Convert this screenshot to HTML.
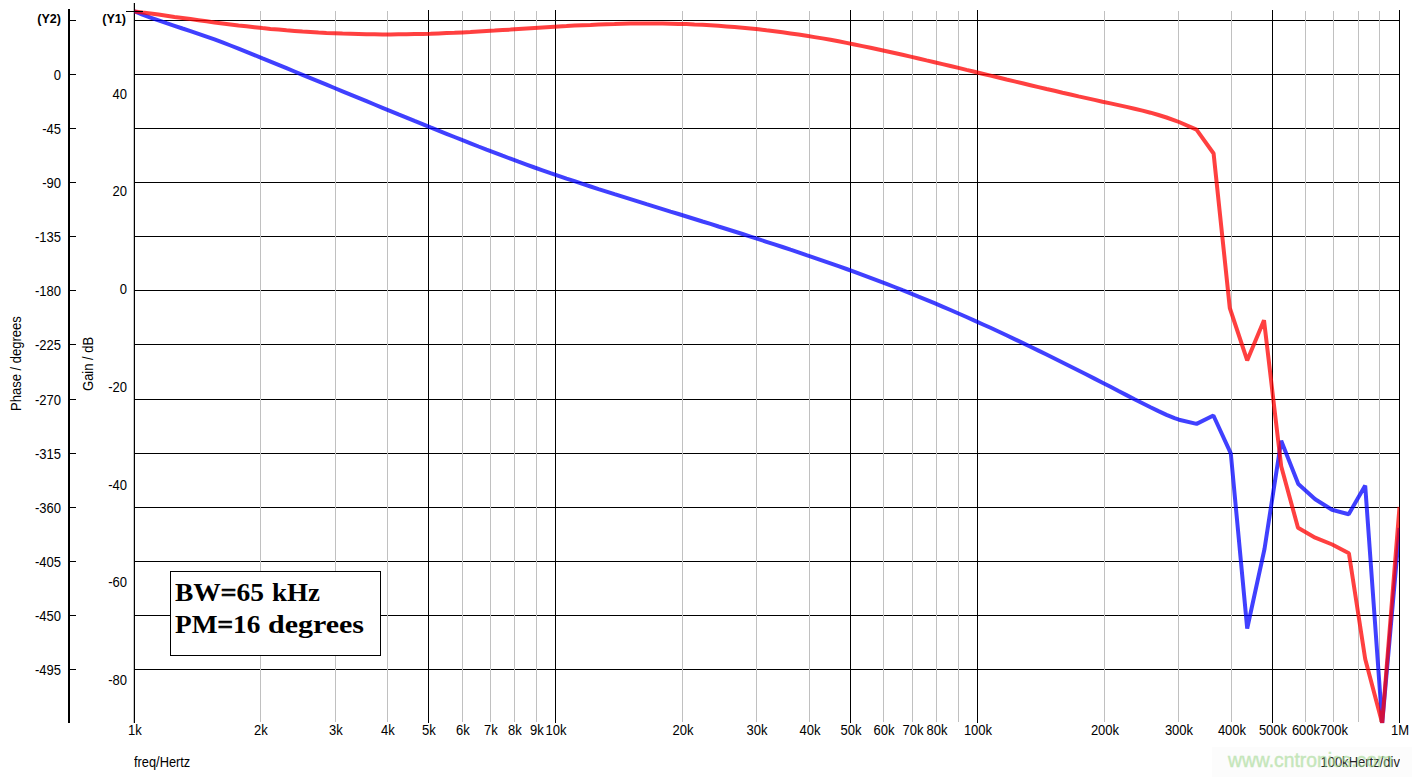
<!DOCTYPE html>
<html><head><meta charset="utf-8"><title>Bode plot</title>
<style>
html,body{margin:0;padding:0;background:#fff;}
body{width:1412px;height:777px;position:relative;overflow:hidden;font-family:"Liberation Sans",sans-serif;font-size:14px;color:#000;}
.t{position:absolute;white-space:nowrap;line-height:16px;height:16px;transform:scaleX(0.93);transform-origin:0 50%;}
.r{text-align:right;transform-origin:100% 50%;}
.c{text-align:center;transform-origin:50% 50%;}
.b{font-weight:bold;font-size:13.7px;transform:scaleX(0.92);}
.rot{position:absolute;white-space:nowrap;line-height:16px;transform-origin:0 0;transform:rotate(-90deg) scaleX(0.93);}
#box{position:absolute;left:170px;top:571px;width:209px;height:83px;border:1px solid #000;background:#fff;}
#box span{position:absolute;white-space:nowrap;font-family:"Liberation Serif",serif;font-weight:bold;font-size:26px;line-height:30px;transform-origin:0 50%;}
#box b{-webkit-text-stroke:0.7px #000;}
#band{position:absolute;left:1212px;top:747px;width:200px;height:30px;background:#fcfcfc;}
#wm{position:absolute;left:1228px;top:750px;font-size:19.3px;line-height:22px;color:rgb(161,216,143);-webkit-text-stroke:0.45px rgb(161,216,143);opacity:0.6;white-space:nowrap;}
</style></head><body>
<svg width="1412" height="777" viewBox="0 0 1412 777" style="position:absolute;left:0;top:0">
<defs><clipPath id="pc"><rect x="134.3" y="0" width="1265" height="723.2"/></clipPath></defs>
<g shape-rendering="crispEdges">
<rect x="68" y="9" width="2" height="714" fill="#000"/>
<rect x="70" y="20" width="6" height="1" fill="#000"/>
<rect x="70" y="74" width="6" height="1" fill="#000"/>
<rect x="70" y="128" width="6" height="1" fill="#000"/>
<rect x="70" y="182" width="6" height="1" fill="#000"/>
<rect x="70" y="236" width="6" height="1" fill="#000"/>
<rect x="70" y="290" width="6" height="1" fill="#000"/>
<rect x="70" y="344" width="6" height="1" fill="#000"/>
<rect x="70" y="399" width="6" height="1" fill="#000"/>
<rect x="70" y="453" width="6" height="1" fill="#000"/>
<rect x="70" y="507" width="6" height="1" fill="#000"/>
<rect x="70" y="561" width="6" height="1" fill="#000"/>
<rect x="70" y="615" width="6" height="1" fill="#000"/>
<rect x="70" y="669" width="6" height="1" fill="#000"/>
<rect x="134" y="20" width="1266" height="1" fill="#000"/>
<rect x="134" y="74" width="1266" height="1" fill="#000"/>
<rect x="134" y="128" width="1266" height="1" fill="#000"/>
<rect x="134" y="182" width="1266" height="1" fill="#000"/>
<rect x="134" y="236" width="1266" height="1" fill="#000"/>
<rect x="134" y="290" width="1266" height="1" fill="#000"/>
<rect x="134" y="344" width="1266" height="1" fill="#000"/>
<rect x="134" y="399" width="1266" height="1" fill="#000"/>
<rect x="134" y="453" width="1266" height="1" fill="#000"/>
<rect x="134" y="507" width="1266" height="1" fill="#000"/>
<rect x="134" y="561" width="1266" height="1" fill="#000"/>
<rect x="134" y="615" width="1266" height="1" fill="#000"/>
<rect x="134" y="669" width="1266" height="1" fill="#000"/>
<rect x="260" y="11" width="1" height="711" fill="#c0c0c0"/>
<rect x="335" y="11" width="1" height="711" fill="#c0c0c0"/>
<rect x="387" y="11" width="1" height="711" fill="#c0c0c0"/>
<rect x="462" y="11" width="1" height="711" fill="#c0c0c0"/>
<rect x="490" y="11" width="1" height="711" fill="#c0c0c0"/>
<rect x="514" y="11" width="1" height="711" fill="#c0c0c0"/>
<rect x="536" y="11" width="1" height="711" fill="#c0c0c0"/>
<rect x="682" y="11" width="1" height="711" fill="#c0c0c0"/>
<rect x="756" y="11" width="1" height="711" fill="#c0c0c0"/>
<rect x="809" y="11" width="1" height="711" fill="#c0c0c0"/>
<rect x="883" y="11" width="1" height="711" fill="#c0c0c0"/>
<rect x="912" y="11" width="1" height="711" fill="#c0c0c0"/>
<rect x="936" y="11" width="1" height="711" fill="#c0c0c0"/>
<rect x="958" y="11" width="1" height="711" fill="#c0c0c0"/>
<rect x="1104" y="11" width="1" height="711" fill="#c0c0c0"/>
<rect x="1178" y="11" width="1" height="711" fill="#c0c0c0"/>
<rect x="1231" y="11" width="1" height="711" fill="#c0c0c0"/>
<rect x="1305" y="11" width="1" height="711" fill="#c0c0c0"/>
<rect x="1333" y="11" width="1" height="711" fill="#c0c0c0"/>
<rect x="1358" y="11" width="1" height="711" fill="#c0c0c0"/>
<rect x="1379" y="11" width="1" height="711" fill="#c0c0c0"/>
<rect x="428" y="10" width="1" height="713" fill="#000"/>
<rect x="555" y="10" width="1" height="713" fill="#000"/>
<rect x="850" y="10" width="1" height="713" fill="#000"/>
<rect x="977" y="10" width="1" height="713" fill="#000"/>
<rect x="1272" y="10" width="1" height="713" fill="#000"/>
<rect x="1399" y="10" width="1" height="713" fill="#000"/>
<rect x="133" y="3" width="1" height="720" fill="#c4c4c4"/>
<rect x="134" y="3" width="1" height="720" fill="#000"/>
</g>
<g clip-path="url(#pc)" fill="none" stroke-width="4" stroke-linejoin="bevel">
<path d="M134.5 11.4 L142.5 14.6 L150.5 17.6 L158.5 20.4 L166.5 23.2 L174.5 25.8 L182.5 28.5 L190.5 31.1 L198.5 33.8 L206.5 36.6 L214.5 39.4 L222.5 42.4 L230.5 45.5 L238.5 48.6 L246.5 51.8 L254.5 55.1 L262.5 58.4 L270.5 61.6 L278.5 64.9 L286.5 68.2 L294.5 71.5 L302.5 74.8 L310.5 78.1 L318.5 81.4 L326.5 84.7 L334.5 88.0 L342.5 91.3 L350.5 94.6 L358.5 97.9 L366.5 101.2 L374.5 104.5 L382.5 107.8 L390.5 111.1 L398.5 114.4 L406.5 117.6 L414.5 120.9 L422.5 124.1 L430.5 127.4 L438.5 130.6 L446.5 133.8 L454.5 137.0 L462.5 140.2 L470.5 143.3 L478.5 146.5 L486.5 149.6 L494.5 152.6 L502.5 155.7 L510.5 158.7 L518.5 161.7 L526.5 164.6 L534.5 167.5 L542.5 170.3 L550.5 173.1 L558.5 175.8 L566.5 178.6 L574.5 181.2 L582.5 183.9 L590.5 186.5 L598.5 189.1 L606.5 191.6 L614.5 194.2 L622.5 196.7 L630.5 199.2 L638.5 201.7 L646.5 204.2 L654.5 206.6 L662.5 209.1 L670.5 211.6 L678.5 214.0 L686.5 216.5 L694.5 219.0 L702.5 221.5 L710.5 223.9 L718.5 226.5 L726.5 229.0 L734.5 231.5 L742.5 234.0 L750.5 236.6 L758.5 239.2 L766.5 241.8 L774.5 244.4 L782.5 247.0 L790.5 249.7 L798.5 252.3 L806.5 255.1 L814.5 257.8 L822.5 260.6 L830.5 263.4 L838.5 266.2 L846.5 269.0 L854.5 271.9 L862.5 274.9 L870.5 277.9 L878.5 280.9 L886.5 283.9 L894.5 287.0 L902.5 290.2 L910.5 293.3 L918.5 296.6 L926.5 299.8 L934.5 303.2 L942.5 306.6 L950.5 310.0 L958.5 313.5 L966.5 317.0 L974.5 320.6 L982.5 324.2 L990.5 327.8 L998.5 331.5 L1006.5 335.3 L1014.5 339.1 L1022.5 342.9 L1030.5 346.7 L1038.5 350.6 L1046.5 354.5 L1054.5 358.5 L1062.5 362.5 L1070.5 366.5 L1078.5 370.5 L1086.5 374.5 L1094.5 378.6 L1102.5 382.7 L1110.5 386.8 L1118.5 391.0 L1126.5 395.1 L1134.5 399.2 L1142.5 403.2 L1150.5 407.2 L1158.5 411.1 L1166.5 414.9 L1174.5 418.2 L1179.0 419.7 L1196.6 423.9 L1213.4 415.5 L1230.8 453.4 L1247.2 628.5 L1264.5 549.0 L1281.2 440.8 L1298.3 484.0 L1315.2 499.3 L1332.0 509.8 L1348.7 514.2 L1365.2 485.6 L1382.2 723.2 L1399.5 528.0" stroke="rgba(0,0,255,0.75)"/>
<path d="M134.5 11.4 L142.5 12.5 L150.5 13.5 L158.5 14.6 L166.5 15.7 L174.5 16.9 L182.5 18.0 L190.5 19.1 L198.5 20.2 L206.5 21.3 L214.5 22.4 L222.5 23.4 L230.5 24.4 L238.5 25.4 L246.5 26.3 L254.5 27.2 L262.5 28.1 L270.5 28.9 L278.5 29.6 L286.5 30.3 L294.5 30.9 L302.5 31.5 L310.5 32.0 L318.5 32.5 L326.5 32.9 L334.5 33.2 L342.5 33.6 L350.5 33.8 L358.5 34.0 L366.5 34.2 L374.5 34.3 L382.5 34.4 L390.5 34.4 L398.5 34.3 L406.5 34.3 L414.5 34.1 L422.5 33.9 L430.5 33.7 L438.5 33.4 L446.5 33.1 L454.5 32.8 L462.5 32.4 L470.5 32.0 L478.5 31.5 L486.5 31.0 L494.5 30.6 L502.5 30.1 L510.5 29.6 L518.5 29.0 L526.5 28.5 L534.5 28.0 L542.5 27.5 L550.5 27.0 L558.5 26.5 L566.5 26.1 L574.5 25.6 L582.5 25.2 L590.5 24.9 L598.5 24.5 L606.5 24.2 L614.5 24.0 L622.5 23.7 L630.5 23.6 L638.5 23.5 L646.5 23.4 L654.5 23.5 L662.5 23.5 L670.5 23.7 L678.5 23.9 L686.5 24.1 L694.5 24.5 L702.5 24.8 L710.5 25.3 L718.5 25.8 L726.5 26.4 L734.5 27.0 L742.5 27.7 L750.5 28.5 L758.5 29.3 L766.5 30.3 L774.5 31.2 L782.5 32.3 L790.5 33.4 L798.5 34.5 L806.5 35.8 L814.5 37.1 L822.5 38.4 L830.5 39.8 L838.5 41.3 L846.5 42.9 L854.5 44.5 L862.5 46.1 L870.5 47.8 L878.5 49.5 L886.5 51.2 L894.5 53.0 L902.5 54.8 L910.5 56.6 L918.5 58.5 L926.5 60.4 L934.5 62.2 L942.5 64.1 L950.5 66.0 L958.5 67.9 L966.5 69.9 L974.5 71.8 L982.5 73.7 L990.5 75.6 L998.5 77.5 L1006.5 79.5 L1014.5 81.4 L1022.5 83.3 L1030.5 85.2 L1038.5 87.1 L1046.5 89.0 L1054.5 90.8 L1062.5 92.7 L1070.5 94.5 L1078.5 96.4 L1086.5 98.1 L1094.5 99.9 L1102.5 101.7 L1110.5 103.4 L1118.5 105.1 L1126.5 106.9 L1134.5 108.7 L1142.5 110.6 L1150.5 112.7 L1158.5 115.0 L1166.5 117.5 L1174.5 120.3 L1179.0 122.0 L1196.5 129.6 L1213.6 153.5 L1229.8 308.0 L1247.2 360.4 L1264.0 320.3 L1281.2 466.3 L1298.0 527.8 L1315.2 537.7 L1332.2 544.5 L1348.9 553.2 L1365.2 659.0 L1382.2 723.2 L1399.5 507.0" stroke="rgba(255,0,0,0.75)"/>
</g>
<rect x="126" y="11" width="17" height="1" fill="#000" shape-rendering="crispEdges"/>
</svg>
<div class="t r" style="left:0;width:61px;top:67px">0</div>
<div class="t r" style="left:0;width:61px;top:121px">-45</div>
<div class="t r" style="left:0;width:61px;top:175px">-90</div>
<div class="t r" style="left:0;width:61px;top:229px">-135</div>
<div class="t r" style="left:0;width:61px;top:283px">-180</div>
<div class="t r" style="left:0;width:61px;top:337px">-225</div>
<div class="t r" style="left:0;width:61px;top:392px">-270</div>
<div class="t r" style="left:0;width:61px;top:446px">-315</div>
<div class="t r" style="left:0;width:61px;top:500px">-360</div>
<div class="t r" style="left:0;width:61px;top:554px">-405</div>
<div class="t r" style="left:0;width:61px;top:608px">-450</div>
<div class="t r" style="left:0;width:61px;top:662px">-495</div>
<div class="t r b" style="left:0;width:61px;top:11px">(Y2)</div>
<div class="t r b" style="left:60px;width:66px;top:11px">(Y1)</div>
<div class="t r" style="left:60px;width:67px;top:85.5px">40</div>
<div class="t r" style="left:60px;width:67px;top:183.2px">20</div>
<div class="t r" style="left:60px;width:67px;top:281.0px">0</div>
<div class="t r" style="left:60px;width:67px;top:378.7px">-20</div>
<div class="t r" style="left:60px;width:67px;top:476.5px">-40</div>
<div class="t r" style="left:60px;width:67px;top:574.2px">-60</div>
<div class="t r" style="left:60px;width:67px;top:671.9px">-80</div>
<div class="t c" style="left:104.5px;width:60px;top:722px">1k</div>
<div class="t c" style="left:230.5px;width:60px;top:722px">2k</div>
<div class="t c" style="left:305.5px;width:60px;top:722px">3k</div>
<div class="t c" style="left:357.5px;width:60px;top:722px">4k</div>
<div class="t c" style="left:398.5px;width:60px;top:722px">5k</div>
<div class="t c" style="left:432.5px;width:60px;top:722px">6k</div>
<div class="t c" style="left:460.5px;width:60px;top:722px">7k</div>
<div class="t c" style="left:484.5px;width:60px;top:722px">8k</div>
<div class="t c" style="left:506.5px;width:60px;top:722px">9k</div>
<div class="t c" style="left:525.5px;width:60px;top:722px">10k</div>
<div class="t c" style="left:652.5px;width:60px;top:722px">20k</div>
<div class="t c" style="left:726.5px;width:60px;top:722px">30k</div>
<div class="t c" style="left:779.5px;width:60px;top:722px">40k</div>
<div class="t c" style="left:820.5px;width:60px;top:722px">50k</div>
<div class="t c" style="left:853.5px;width:60px;top:722px">60k</div>
<div class="t c" style="left:882.5px;width:60px;top:722px">70k</div>
<div class="t c" style="left:906.5px;width:60px;top:722px">80k</div>
<div class="t c" style="left:947.5px;width:60px;top:722px">100k</div>
<div class="t c" style="left:1074.5px;width:60px;top:722px">200k</div>
<div class="t c" style="left:1148.5px;width:60px;top:722px">300k</div>
<div class="t c" style="left:1201.5px;width:60px;top:722px">400k</div>
<div class="t c" style="left:1242.5px;width:60px;top:722px">500k</div>
<div class="t c" style="left:1275.5px;width:60px;top:722px">600k</div>
<div class="t c" style="left:1303.5px;width:60px;top:722px">700k</div>
<div class="t c" style="left:1369.5px;width:60px;top:722px">1M</div>
<div class="t" style="left:134px;top:754px;transform:scaleX(0.915)">freq/Hertz</div>
<div id="band"></div>
<div class="t r" style="left:1200px;width:200px;top:754px;color:#222">100kHertz/div</div>
<div id="wm">www.cntronics.com</div>
<div class="rot" style="left:7.5px;top:411px">Phase / degrees</div>
<div class="rot" style="left:80px;top:391px">Gain / dB</div>
<div id="box"><span style="left:4px;top:5.5px;transform:scaleX(1.058)">BW<b>=</b>65</span><span style="left:101.3px;top:5.5px;transform:scaleX(1.035)">kHz</span><span style="left:4px;top:38px;transform:scaleX(1.05)">PM<b>=</b>16</span><span style="left:97.3px;top:38px;transform:scaleX(1.153)">degrees</span></div>
</body></html>
